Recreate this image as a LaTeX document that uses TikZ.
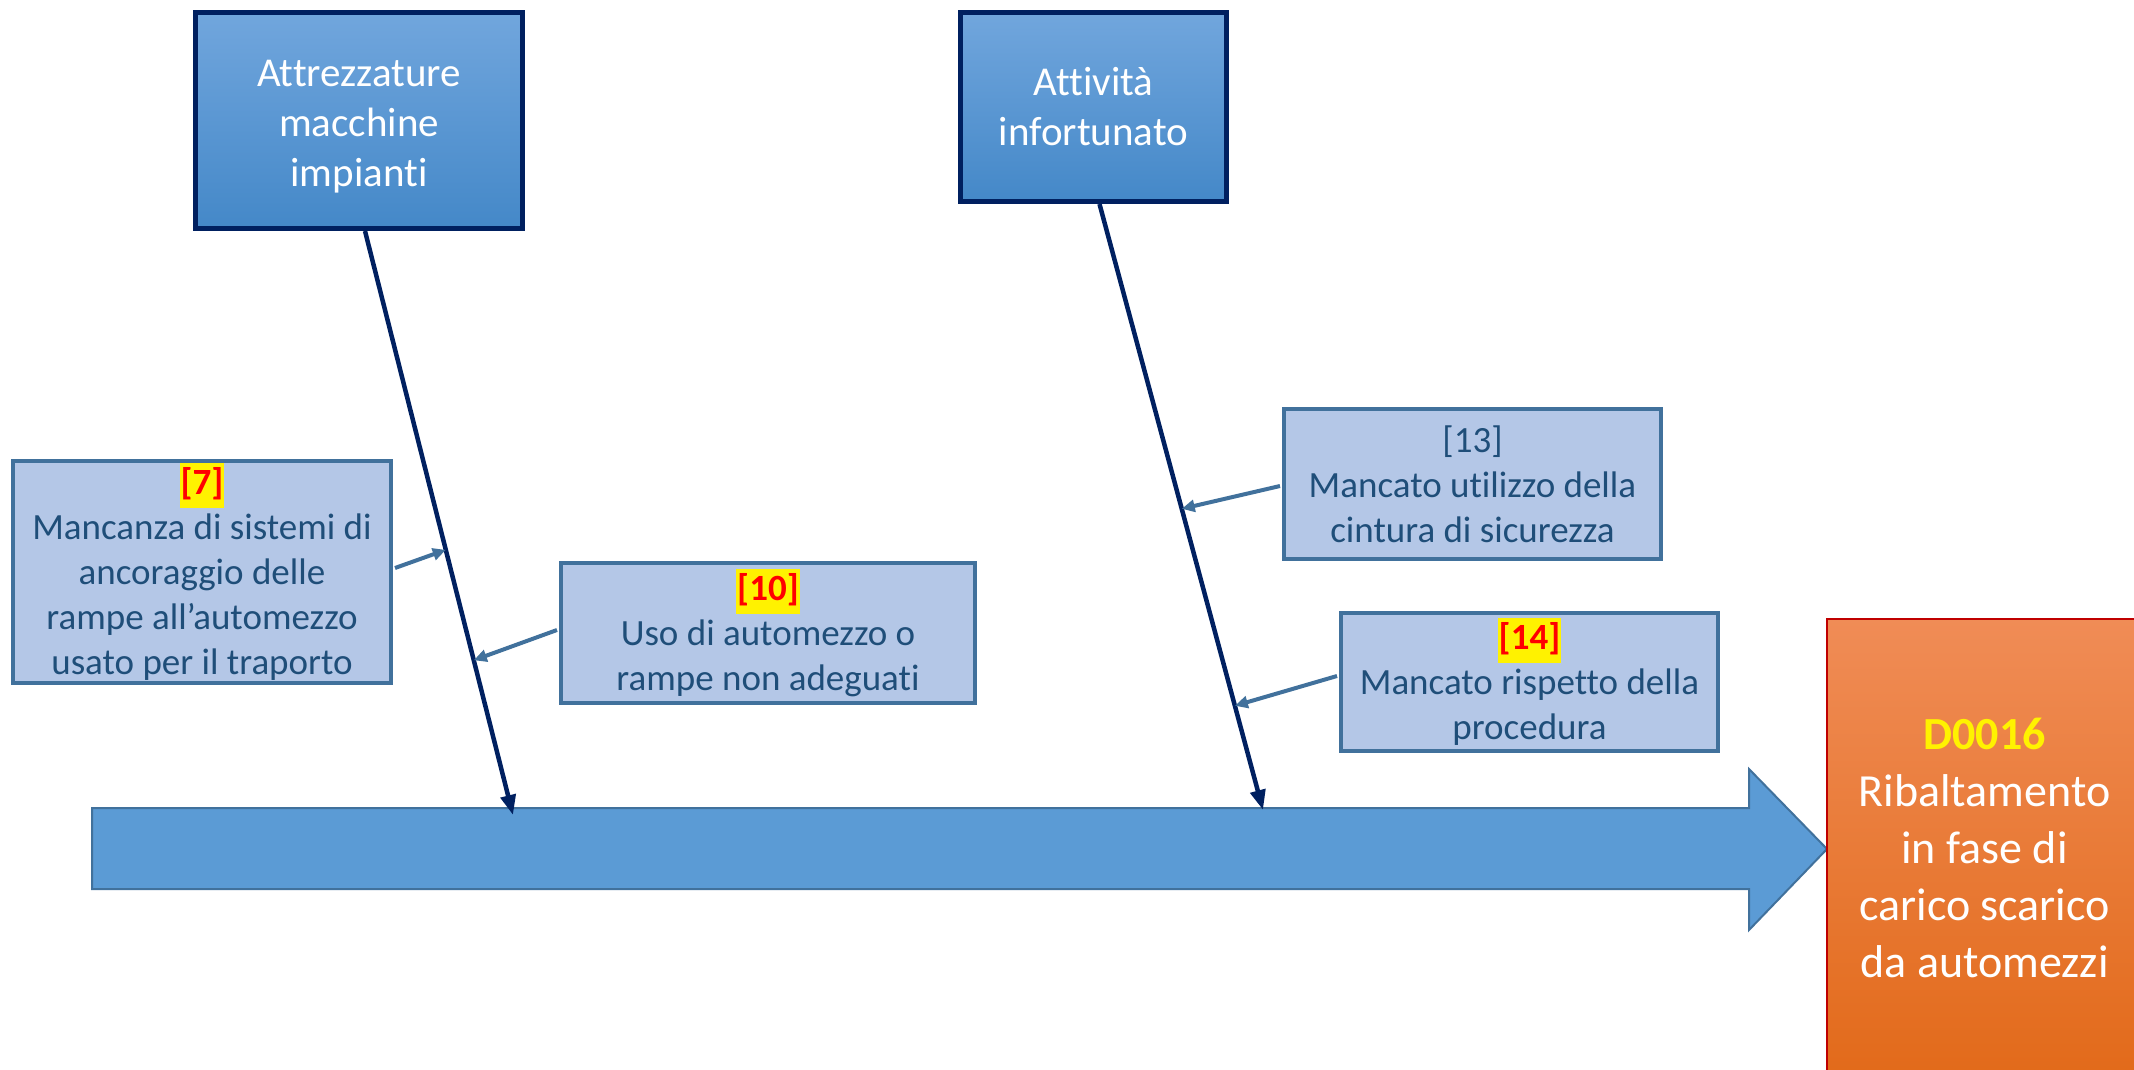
\documentclass[tikz,border=0pt]{standalone}
\usepackage{fontspec}
\setmainfont{Carlito}[Ligatures=NoCommon]
\usetikzlibrary{arrows.meta,calc}
\definecolor{navy}{HTML}{002060}
\definecolor{hdrtop}{RGB}{113,166,221}
\definecolor{hdrbot}{RGB}{68,136,200}
\definecolor{causefill}{HTML}{B4C7E7}
\definecolor{causeline}{HTML}{41719C}
\definecolor{causetext}{HTML}{1F4E79}
\definecolor{spine}{HTML}{5B9BD5}
\definecolor{ortop}{RGB}{240,140,86}
\definecolor{orbot}{RGB}{226,106,26}
\definecolor{orline}{HTML}{C00000}
\newcommand\tg[1]{{\setlength\fboxsep{0pt}\colorbox{yellow}{\strut\hspace{1pt}\textbf{\color{red}#1}\hspace{1pt}}}}
\tikzset{
  hdrbox/.style={draw=navy,line width=5pt,top color=hdrtop,bottom color=hdrbot,text=white,
    align=center,inner sep=0pt,font=\fontsize{41}{50}\selectfont},
  causebox/.style={draw=causeline,line width=4pt,fill=causefill,text=causetext,
    align=center,inner sep=0pt,font=\fontsize{37}{45}\selectfont},
  bone/.style={draw=navy,line width=4.5pt,-{Triangle[length=20pt,width=15pt]}},
  twig/.style={draw=causeline,line width=4pt,-{Triangle[length=13pt,width=12pt]}},
}
\begin{document}
\begin{tikzpicture}[x=1pt,y=-1pt]
\useasboundingbox (0,0) rectangle (2134,1070);
% main spine arrow
\path[fill=spine,draw=causeline,line width=2pt]
  (92,808) -- (1749,808) -- (1749,769) -- (1827,849) -- (1749,930) -- (1749,889) -- (92,889) -- cycle;
% effect box
\node[draw=orline,line width=2pt,top color=ortop,bottom color=orbot,text=white,align=center,
  inner sep=0pt,minimum width=315pt,minimum height=458pt,font=\fontsize{46}{57}\selectfont]
  (eff) at (1984.5,848) {\textbf{\color{yellow}D0016}\\Ribaltamento\\in fase di\\carico scarico\\da automezzi};
% category boxes
\node[hdrbox,minimum width=327pt,minimum height=216pt] (A) at (359,120.5) {\rule{0pt}{38pt}Attrezzature\\macchine\\impianti};
\node[hdrbox,minimum width=266pt,minimum height=189pt] (B) at (1093.5,107) {Attività\\infortunato};
% cause boxes
\node[causebox,minimum width=378pt,minimum height=222pt] (c7) at (202,572)
  {\tg{[7]}\\Mancanza di sistemi di\\ancoraggio delle\\rampe all’automezzo\\usato per il traporto};
\node[causebox,minimum width=414pt,minimum height=140pt] (c10) at (768,633)
  {\tg{[10]}\\Uso di automezzo o\\rampe non adeguati};
\node[causebox,minimum width=377pt,minimum height=150pt] (c13) at (1472.5,484)
  {[13]\\Mancato utilizzo della\\cintura di sicurezza};
\node[causebox,minimum width=377pt,minimum height=138pt] (c14) at (1529.5,682)
  {\tg{[14]}\\Mancato rispetto della\\procedura};
% bones
\coordinate (b1s) at ([xshift=6pt]A.south);
\coordinate (b1e) at (513,815);
\coordinate (b2s) at ([xshift=6pt]B.south);
\coordinate (b2e) at (1263,810);
\draw[bone] (b1s) -- (b1e);
\draw[bone] (b2s) -- (b2e);
\coordinate (p7) at ($(b1s)!0.546!(b1e)$);
\coordinate (p10) at ($(b1s)!0.735!(b1e)$);
\coordinate (p13) at ($(b2s)!0.503!(b2e)$);
\coordinate (p14) at ($(b2s)!0.828!(b2e)$);
\draw[twig] ([yshift=4pt,xshift=2pt]c7.east) -- (p7);
\draw[twig] ([yshift=3pt,xshift=-2pt]c10.west) -- (p10);
\draw[twig] ([yshift=-2pt,xshift=-2pt]c13.west) -- (p13);
\draw[twig] ([yshift=6pt,xshift=-2pt]c14.west) -- (p14);
\end{tikzpicture}
\end{document}
